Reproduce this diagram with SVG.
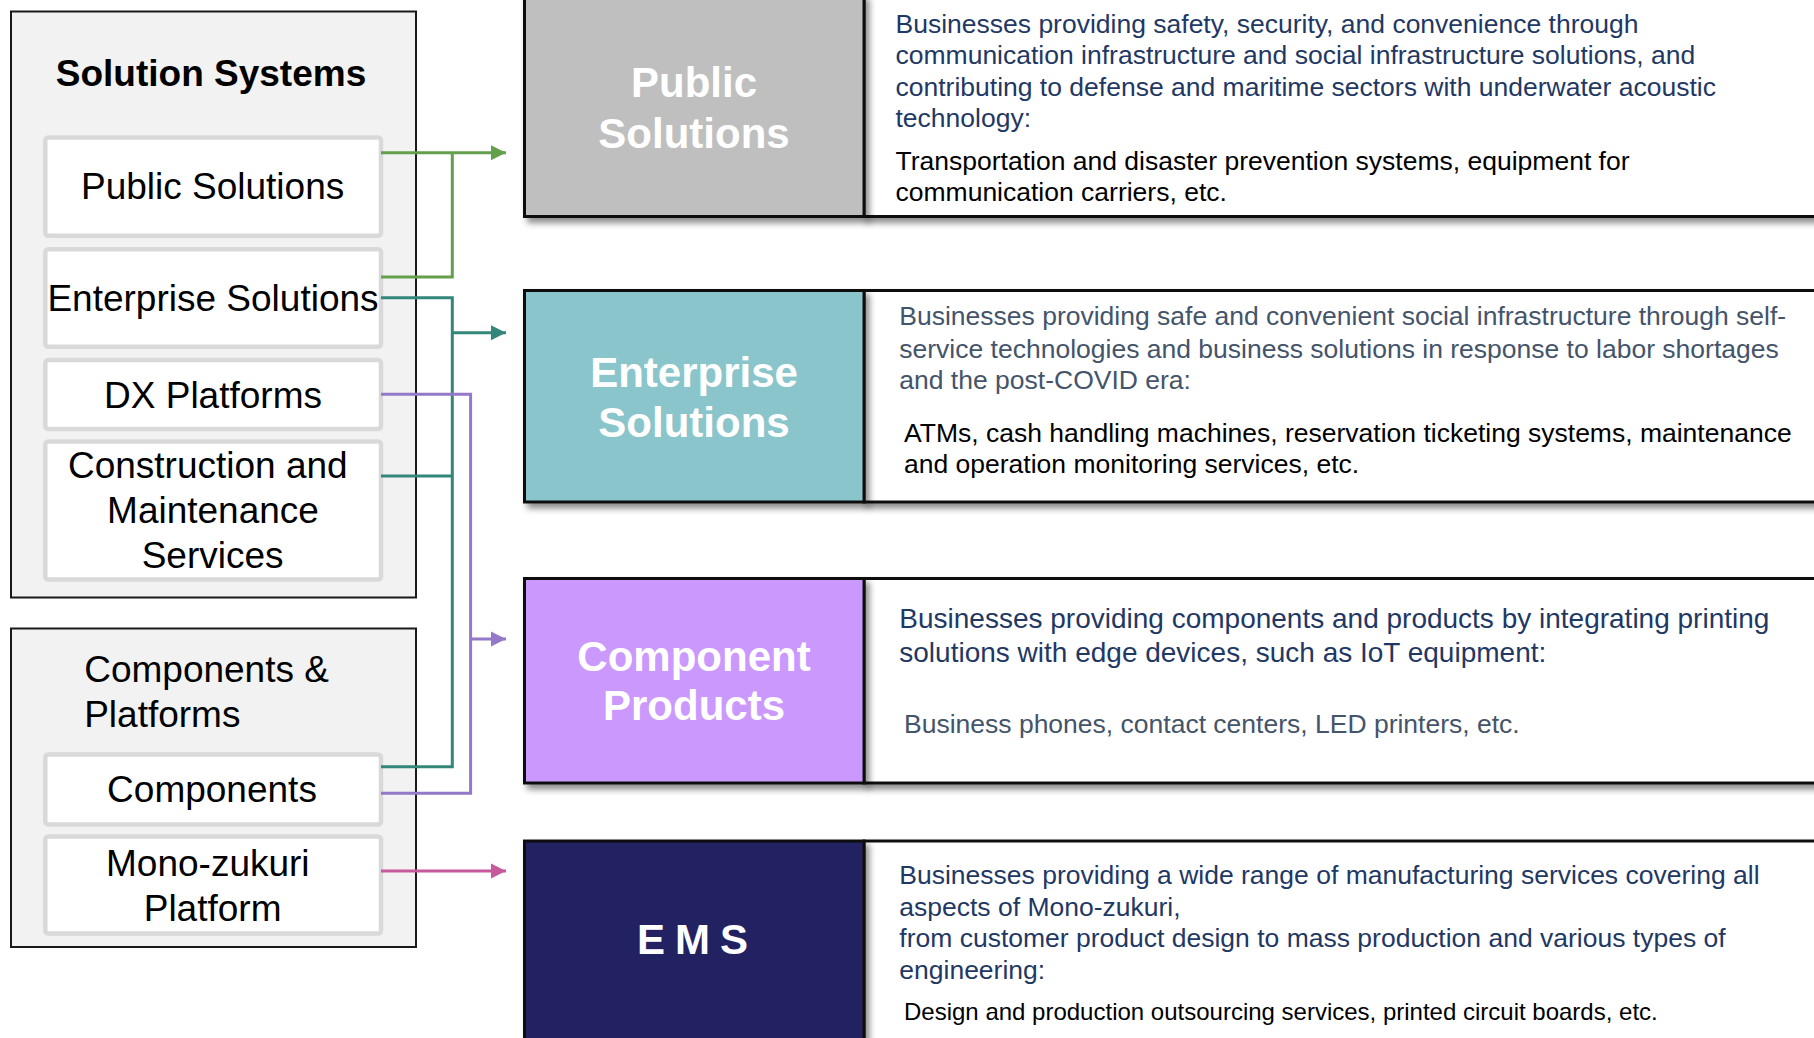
<svg xmlns="http://www.w3.org/2000/svg" width="1814" height="1038" viewBox="0 0 1814 1038">
<style>
  text { font-family: "Liberation Sans", Arial, sans-serif; }
  .panel { fill: #f2f2f2; stroke: #1a1a1a; stroke-width: 2; }
  .box { fill: #ffffff; stroke: #d9d9d9; stroke-width: 4.5; }
  .lbl { font-size: 37px; fill: #000; text-anchor: middle; }
  .lbl-l { font-size: 37px; fill: #000; }
  .title { font-size: 37px; font-weight: bold; fill: #000; text-anchor: middle; }
  .blk { stroke: #111; stroke-width: 3; }
  .txtpanel { fill: #ffffff; stroke: #111; stroke-width: 3; }
  .btitle { font-size: 42px; font-weight: bold; fill: #ffffff; text-anchor: middle; }
  .d { font-size: 26.5px; fill: #1f3864; }
  .g { font-size: 26.5px; fill: #44546a; }
  .k { font-size: 26.5px; fill: #000; }
  .con { fill: none; stroke-width: 3; stroke-linejoin: miter; }
</style>
<defs>
  <filter id="sh" x="-5%" y="-10%" width="115%" height="130%">
    <feDropShadow dx="4" dy="5" stdDeviation="3" flood-color="#000" flood-opacity="0.45"/>
  </filter>
  <marker id="aG" markerUnits="userSpaceOnUse" markerWidth="16" markerHeight="16" refX="15.5" refY="7.8" orient="auto">
    <path d="M0,0 L15.5,7.8 L0,15.6 z" fill="#64a04b"/>
  </marker>
  <marker id="aT" markerUnits="userSpaceOnUse" markerWidth="16" markerHeight="16" refX="15.5" refY="7.8" orient="auto">
    <path d="M0,0 L15.5,7.8 L0,15.6 z" fill="#33877a"/>
  </marker>
  <marker id="aP" markerUnits="userSpaceOnUse" markerWidth="16" markerHeight="16" refX="15.5" refY="7.8" orient="auto">
    <path d="M0,0 L15.5,7.8 L0,15.6 z" fill="#9479c8"/>
  </marker>
  <marker id="aK" markerUnits="userSpaceOnUse" markerWidth="16" markerHeight="16" refX="15.5" refY="7.8" orient="auto">
    <path d="M0,0 L15.5,7.8 L0,15.6 z" fill="#c75a9e"/>
  </marker>
</defs>
<rect x="0" y="0" width="1814" height="1038" fill="#ffffff"/>

<!-- Left panel: Solution Systems -->
<g id="solution-systems">
  <rect class="panel" x="11" y="11.5" width="405" height="586"/>
  <text class="title" x="211" y="86">Solution Systems</text>
</g>
<g id="ls-public">
  <rect class="box" x="45.3" y="137.4" width="335.7" height="98.3" rx="3"/>
  <text class="lbl" x="212.6" y="199">Public Solutions</text>
</g>
<g id="ls-enterprise">
  <rect class="box" x="45.3" y="249.2" width="335.7" height="97.6" rx="3"/>
  <text class="lbl" x="213" y="310.7">Enterprise Solutions</text>
</g>
<g id="ls-dx">
  <rect class="box" x="45.3" y="360" width="335.7" height="69" rx="3"/>
  <text class="lbl" x="213" y="407.6">DX Platforms</text>
</g>
<g id="ls-construction">
  <rect class="box" x="45.3" y="441.5" width="335.7" height="138" rx="3"/>
  <text class="lbl" x="207.8" y="478.4">Construction and</text>
  <text class="lbl" x="213" y="522.8">Maintenance</text>
  <text class="lbl" x="212.6" y="567.5">Services</text>
</g>

<!-- Left panel: Components & Platforms -->
<g id="components-platforms">
  <rect class="panel" x="11" y="628.5" width="405" height="318.5"/>
  <text class="lbl-l" x="84.2" y="682">Components &amp;</text>
  <text class="lbl-l" x="84.2" y="727">Platforms</text>
</g>
<g id="ls-components">
  <rect class="box" x="45.3" y="754.5" width="335.7" height="70" rx="3"/>
  <text class="lbl" x="212" y="801.7">Components</text>
</g>
<g id="ls-monozukuri">
  <rect class="box" x="45.3" y="836.5" width="335.7" height="97" rx="3"/>
  <text class="lbl" x="207.8" y="875.7">Mono-zukuri</text>
  <text class="lbl" x="212.6" y="920.7">Platform</text>
</g>

<!-- Right: Public Solutions -->
<g id="public-solutions">
  <rect class="txtpanel" x="864" y="-5" width="980" height="221.5" filter="url(#sh)"/>
  <rect class="blk" x="524.5" y="-5" width="339.5" height="221.5" fill="#bfbfbf" filter="url(#sh)"/>
  <text class="btitle" x="694" y="97.4">Public</text>
  <text class="btitle" x="694" y="148">Solutions</text>
  <text class="d" x="895.5" y="32.5">Businesses providing safety, security, and convenience through</text>
  <text class="d" x="895.5" y="64">communication infrastructure and social infrastructure solutions, and</text>
  <text class="d" x="895.5" y="95.7">contributing to defense and maritime sectors with underwater acoustic</text>
  <text class="d" x="895.5" y="127.3">technology:</text>
  <text class="k" x="895.5" y="169.5">Transportation and disaster prevention systems, equipment for</text>
  <text class="k" x="895.5" y="201.1">communication carriers, etc.</text>
</g>

<!-- Right: Enterprise Solutions -->
<g id="enterprise-solutions">
  <rect class="txtpanel" x="864" y="290.5" width="980" height="211.5" filter="url(#sh)"/>
  <rect class="blk" x="524.5" y="290.5" width="339.5" height="211.5" fill="#8bc5cc" filter="url(#sh)"/>
  <text class="btitle" x="694" y="386.6">Enterprise</text>
  <text class="btitle" x="694" y="436.5">Solutions</text>
  <text class="g" x="899.3" y="325">Businesses providing safe and convenient social infrastructure through self-</text>
  <text class="g" x="899.3" y="357.7">service technologies and business solutions in response to labor shortages</text>
  <text class="g" x="899.3" y="389.3">and the post-COVID era:</text>
  <text class="k" x="904" y="441.7">ATMs, cash handling machines, reservation ticketing systems, maintenance</text>
  <text class="k" x="904" y="473.3">and operation monitoring services, etc.</text>
</g>

<!-- Right: Component Products -->
<g id="component-products">
  <rect class="txtpanel" x="864" y="578.5" width="980" height="204.5" filter="url(#sh)"/>
  <rect class="blk" x="524.5" y="578.5" width="339.5" height="204.5" fill="#cb99fd" filter="url(#sh)"/>
  <text class="btitle" x="694" y="670.7">Component</text>
  <text class="btitle" x="694" y="720.3">Products</text>
  <text class="d" x="899.3" y="628.3" style="font-size:28px">Businesses providing components and products by integrating printing</text>
  <text class="d" x="899.3" y="661.7" style="font-size:28px">solutions with edge devices, such as IoT equipment:</text>
  <text class="g" x="904" y="732.7">Business phones, contact centers, LED printers, etc.</text>
</g>

<!-- Right: EMS -->
<g id="ems">
  <rect class="txtpanel" x="864" y="841" width="980" height="220" filter="url(#sh)"/>
  <rect class="blk" x="524.5" y="841" width="339.5" height="220" fill="#222262" filter="url(#sh)"/>
  <text x="637" y="953.8" style="font-size:42px;font-weight:bold;fill:#ffffff;letter-spacing:10px">EMS</text>
  <text class="d" x="899.3" y="884.2">Businesses providing a wide range of manufacturing services covering all</text>
  <text class="d" x="899.3" y="915.7">aspects of Mono-zukuri,</text>
  <text class="d" x="899.3" y="947.2">from customer product design to mass production and various types of</text>
  <text class="d" x="899.3" y="978.6">engineering:</text>
  <text class="k" x="904" y="1020" style="font-size:24px">Design and production outsourcing services, printed circuit boards, etc.</text>
</g>

<!-- Connectors -->
<g id="connectors">
  <path class="con" stroke="#64a04b" d="M381,152.7 H506" marker-end="url(#aG)"/>
  <path class="con" stroke="#64a04b" d="M381,277 H452.3 V152.7"/>
  <path class="con" stroke="#33877a" d="M381,297.7 H452.3 V766.7 H381"/>
  <path class="con" stroke="#33877a" d="M452.3,332.7 H506" marker-end="url(#aT)"/>
  <path class="con" stroke="#33877a" d="M381,476 H452.3"/>
  <path class="con" stroke="#9479c8" d="M381,394.3 H470.6 V793.3 H381"/>
  <path class="con" stroke="#9479c8" d="M470.6,639 H506" marker-end="url(#aP)"/>
  <path class="con" stroke="#c75a9e" d="M381,871 H506" marker-end="url(#aK)"/>
</g>
</svg>
